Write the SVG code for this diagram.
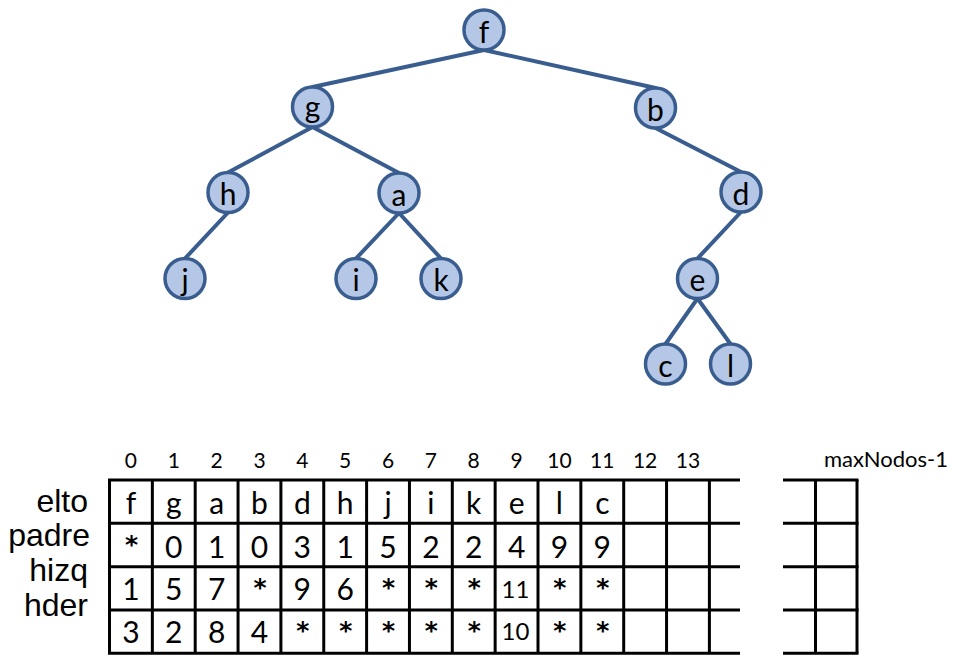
<svg xmlns="http://www.w3.org/2000/svg" width="972" height="656" viewBox="0 0 972 656">
<style>
.edge{stroke:#3a5d8f;stroke-width:4;fill:none;stroke-linecap:round}
.node circle{fill:#b4c7e7;stroke:#3a5d8f;stroke-width:3.5}
.node text{font-family:Lato,"Open Sans",sans-serif;font-size:30px;fill:#000;text-anchor:middle}
.grid line{stroke:#000;stroke-width:3}
.cell{font-family:Lato,"Open Sans",sans-serif;font-size:30px;fill:#000;text-anchor:middle}
.small{font-size:24px}
.ast{font-family:"DejaVu Sans",sans-serif;font-weight:bold;font-size:25px;fill:#000;text-anchor:middle}
.idx{font-family:Lato,"Open Sans",sans-serif;font-size:21px;fill:#000;text-anchor:middle}
.max{font-size:22px}
.lbl{font-family:"Liberation Sans",Arial,sans-serif;font-size:32px;fill:#000;text-anchor:end}
</style>
<rect width="972" height="656" fill="#fff"/>
<g id="connectors">
<line class="edge" x1="484" y1="50" x2="312.5" y2="87"/>
<line class="edge" x1="484" y1="50" x2="655.5" y2="88"/>
<line class="edge" x1="312.5" y1="127" x2="228" y2="172.5"/>
<line class="edge" x1="312.5" y1="127" x2="399" y2="173"/>
<line class="edge" x1="655.5" y1="128" x2="741" y2="172"/>
<line class="edge" x1="228" y1="212.5" x2="185" y2="258.5"/>
<line class="edge" x1="399" y1="213" x2="356" y2="258.5"/>
<line class="edge" x1="399" y1="213" x2="441" y2="258.5"/>
<line class="edge" x1="741" y1="212" x2="697.5" y2="258.5"/>
<line class="edge" x1="697.5" y1="298.5" x2="665.5" y2="344"/>
<line class="edge" x1="697.5" y1="298.5" x2="730.5" y2="344"/>
</g>
<g id="node-f" class="node"><circle cx="484" cy="30" r="20"/><text x="484" y="42.5">f</text></g>
<g id="node-g" class="node"><circle cx="312.5" cy="107" r="20"/><text x="312.5" y="117.5">g</text></g>
<g id="node-b" class="node"><circle cx="655.5" cy="108" r="20"/><text x="655.5" y="120.5">b</text></g>
<g id="node-h" class="node"><circle cx="228" cy="192.5" r="20"/><text x="228" y="205">h</text></g>
<g id="node-a" class="node"><circle cx="399" cy="193" r="20"/><text x="399" y="205.5">a</text></g>
<g id="node-d" class="node"><circle cx="741" cy="192" r="20"/><text x="741" y="204.5">d</text></g>
<g id="node-j" class="node"><circle cx="185" cy="278.5" r="20"/><text x="185" y="291">j</text></g>
<g id="node-i" class="node"><circle cx="356" cy="278.5" r="20"/><text x="356" y="291">i</text></g>
<g id="node-k" class="node"><circle cx="441" cy="278.5" r="20"/><text x="441" y="291">k</text></g>
<g id="node-e" class="node"><circle cx="697.5" cy="278.5" r="20"/><text x="697.5" y="291">e</text></g>
<g id="node-c" class="node"><circle cx="665.5" cy="364" r="20"/><text x="665.5" y="376.5">c</text></g>
<g id="node-l" class="node"><circle cx="730.5" cy="364" r="20"/><text x="730.5" y="376.5">l</text></g>
<g id="table" class="grid">
<line x1="108" y1="480" x2="740" y2="480"/>
<line x1="108" y1="523.3" x2="740" y2="523.3"/>
<line x1="108" y1="566.7" x2="740" y2="566.7"/>
<line x1="108" y1="610" x2="740" y2="610"/>
<line x1="108" y1="653.3" x2="740" y2="653.3"/>
<line x1="783" y1="480" x2="858.5" y2="480"/>
<line x1="783" y1="523.3" x2="858.5" y2="523.3"/>
<line x1="783" y1="566.7" x2="858.5" y2="566.7"/>
<line x1="783" y1="610" x2="858.5" y2="610"/>
<line x1="783" y1="653.3" x2="858.5" y2="653.3"/>
<line x1="109.5" y1="480" x2="109.5" y2="653.3"/>
<line x1="152.35" y1="480" x2="152.35" y2="653.3"/>
<line x1="195.2" y1="480" x2="195.2" y2="653.3"/>
<line x1="238.05" y1="480" x2="238.05" y2="653.3"/>
<line x1="280.9" y1="480" x2="280.9" y2="653.3"/>
<line x1="323.75" y1="480" x2="323.75" y2="653.3"/>
<line x1="366.6" y1="480" x2="366.6" y2="653.3"/>
<line x1="409.45" y1="480" x2="409.45" y2="653.3"/>
<line x1="452.3" y1="480" x2="452.3" y2="653.3"/>
<line x1="495.15" y1="480" x2="495.15" y2="653.3"/>
<line x1="538" y1="480" x2="538" y2="653.3"/>
<line x1="580.85" y1="480" x2="580.85" y2="653.3"/>
<line x1="623.7" y1="480" x2="623.7" y2="653.3"/>
<line x1="666.55" y1="480" x2="666.55" y2="653.3"/>
<line x1="709.4" y1="480" x2="709.4" y2="653.3"/>
<line x1="815.5" y1="480" x2="815.5" y2="653.3"/>
<line x1="857" y1="480" x2="857" y2="653.3"/>
</g>
<g id="indices">
<text class="idx" x="130.9" y="468">0</text>
<text class="idx" x="173.8" y="468">1</text>
<text class="idx" x="216.6" y="468">2</text>
<text class="idx" x="259.5" y="468">3</text>
<text class="idx" x="302.3" y="468">4</text>
<text class="idx" x="345.2" y="468">5</text>
<text class="idx" x="388" y="468">6</text>
<text class="idx" x="430.9" y="468">7</text>
<text class="idx" x="473.7" y="468">8</text>
<text class="idx" x="516.6" y="468">9</text>
<text class="idx" x="559.4" y="468">10</text>
<text class="idx" x="602.3" y="468">11</text>
<text class="idx" x="645.1" y="468">12</text>
<text class="idx" x="688" y="468">13</text>
<text class="idx max" x="886" y="467">maxNodos-1</text>
</g>
<g id="row-labels">
<text class="lbl" x="88" y="512">elto</text>
<text class="lbl" x="90" y="546">padre</text>
<text class="lbl" x="88" y="581">hizq</text>
<text class="lbl" x="88" y="616">hder</text>
</g>
<g id="row-elto">
<text class="cell" x="130.9" y="514">f</text>
<text class="cell" x="173.8" y="514">g</text>
<text class="cell" x="216.6" y="514">a</text>
<text class="cell" x="259.5" y="514">b</text>
<text class="cell" x="302.3" y="514">d</text>
<text class="cell" x="345.2" y="514">h</text>
<text class="cell" x="388" y="514">j</text>
<text class="cell" x="430.9" y="514">i</text>
<text class="cell" x="473.7" y="514">k</text>
<text class="cell" x="516.6" y="514">e</text>
<text class="cell" x="559.4" y="514">l</text>
<text class="cell" x="602.3" y="514">c</text>
</g>
<g id="row-padre">
<text class="ast" x="131.5" y="553">*</text>
<text class="cell" x="173.8" y="558">0</text>
<text class="cell" x="216.6" y="558">1</text>
<text class="cell" x="259.5" y="558">0</text>
<text class="cell" x="302.3" y="558">3</text>
<text class="cell" x="345.2" y="558">1</text>
<text class="cell" x="388" y="558">5</text>
<text class="cell" x="430.9" y="558">2</text>
<text class="cell" x="473.7" y="558">2</text>
<text class="cell" x="516.6" y="558">4</text>
<text class="cell" x="559.4" y="558">9</text>
<text class="cell" x="602.3" y="558">9</text>
</g>
<g id="row-hizq">
<text class="cell" x="130.9" y="600">1</text>
<text class="cell" x="173.8" y="600">5</text>
<text class="cell" x="216.6" y="600">7</text>
<text class="ast" x="260" y="596">*</text>
<text class="cell" x="302.3" y="600">9</text>
<text class="cell" x="345.2" y="600">6</text>
<text class="ast" x="388.5" y="596">*</text>
<text class="ast" x="431.4" y="596">*</text>
<text class="ast" x="474.2" y="596">*</text>
<text class="cell small" x="515.5" y="598">11</text>
<text class="ast" x="559.9" y="596">*</text>
<text class="ast" x="602.8" y="596">*</text>
</g>
<g id="row-hder">
<text class="cell" x="130.9" y="643">3</text>
<text class="cell" x="173.8" y="643">2</text>
<text class="cell" x="216.6" y="643">8</text>
<text class="cell" x="259.5" y="643">4</text>
<text class="ast" x="302.8" y="639">*</text>
<text class="ast" x="345.7" y="639">*</text>
<text class="ast" x="388.5" y="639">*</text>
<text class="ast" x="431.4" y="639">*</text>
<text class="ast" x="474.2" y="639">*</text>
<text class="cell small" x="515.5" y="640">10</text>
<text class="ast" x="559.9" y="639">*</text>
<text class="ast" x="602.8" y="639">*</text>
</g>
</svg>
